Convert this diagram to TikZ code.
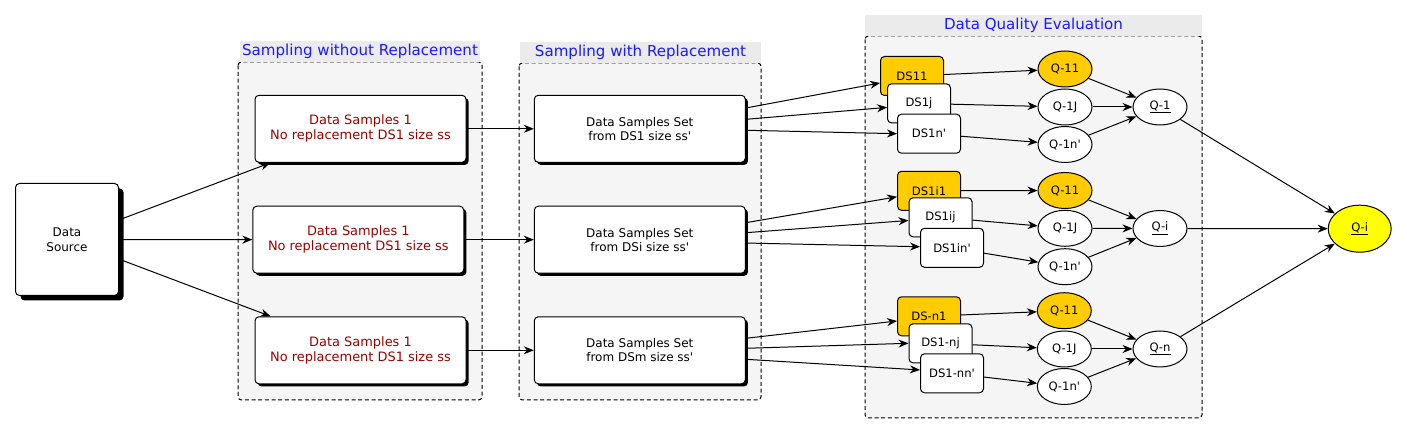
\documentclass[tikz,border=0pt]{standalone}
\usepackage{fontspec}
\setmainfont{DejaVu Sans}
\usetikzlibrary{arrows.meta,shapes.geometric,shadows}

\definecolor{panelgray}{HTML}{F5F5F5}
\definecolor{bandgray}{HTML}{EBEBEB}
\definecolor{dsorange}{HTML}{FFCC00}
\definecolor{qyellow}{HTML}{FFFF00}
\definecolor{titleblue}{HTML}{1A1AFF}
\definecolor{textred}{HTML}{990000}
\newcommand{\pmark}{\textquotesingle{}}

\begin{document}
\begin{tikzpicture}[x=0.75pt, y=-0.75pt, line width=0.75pt,
	>={Stealth[length=7.5pt, width=6pt]},
	panel/.style={draw, dash pattern=on 3pt off 2pt, rounded corners=2.5pt, fill=panelgray},
	band/.style={fill=bandgray, inner sep=0pt, minimum height=15.75pt, text=titleblue, font=\fontsize{11.3}{13}\selectfont},
	bigbox/.style={draw, fill=white, rounded corners=3pt, inner sep=0pt, minimum width=158.25pt, minimum height=50.25pt, align=center, drop shadow={shadow xshift=2pt, shadow yshift=-2pt, fill=black, opacity=1}},
	samplebox/.style={bigbox, text=textred, font=\fontsize{9.7}{11.25}\selectfont},
	setbox/.style={bigbox, font=\fontsize{9}{10.5}\selectfont},
	dsbox/.style={draw, fill=white, rounded corners=3pt, inner sep=0pt, minimum width=47.25pt, minimum height=29.25pt, font=\fontsize{8.7}{10}\selectfont},
	qnode/.style={draw, fill=white, ellipse, inner sep=0pt, minimum width=40.5pt, minimum height=27pt, font=\fontsize{8.7}{10}\selectfont},
]
	\useasboundingbox (0,0) rectangle (1407,434);

	% panels
	\draw[panel] (238,62) rectangle (482,400);
	\draw[panel] (519,63) rectangle (761,400);
	\draw[panel] (865,36) rectangle (1202,418);
	\node[band, minimum width=180pt] (t1) at (360,51.5) {Sampling without Replacement};
	\node[band, minimum width=180.75pt] (t2) at (640.5,52.5) {Sampling with Replacement};
	\node[band, minimum width=252.75pt] (t3) at (1033.5,25.5) {Data Quality Evaluation};

	\node[draw, fill=white, rounded corners=3pt, inner sep=0pt, minimum width=77.25pt, minimum height=84pt, align=center, font=\fontsize{9}{10.9}\selectfont,
		drop shadow={shadow xshift=3.75pt, shadow yshift=-3.75pt, fill=black, opacity=1}] (source) at (67,239.5) {Data\\Source};

	\node[samplebox] (sa1) at (360.5,128.8) {Data Samples 1\\No replacement DS1 size ss};
	\node[samplebox] (sa2) at (358.3,239.7) {Data Samples 1\\No replacement DS1 size ss};
	\node[samplebox] (sa3) at (360.5,350.3) {Data Samples 1\\No replacement DS1 size ss};

	\node[setbox] (sr1) at (639.8,128.8) {Data Samples Set\\from DS1 size ss\pmark};
	\node[setbox] (sr2) at (639.8,239.7) {Data Samples Set\\from DSi size ss\pmark};
	\node[setbox] (sr3) at (639.8,350.3) {Data Samples Set\\from DSm size ss\pmark};

	\node[dsbox, fill=dsorange] (ds11) at (912,76) {DS11};
	\node[dsbox] (ds1j) at (919,103.4) {DS1j};
	\node[dsbox] (ds1n) at (929,133.7) {DS1n\pmark};
	\node[dsbox, fill=dsorange] (dsi1) at (929,190.8) {DS1i1};
	\node[dsbox] (dsij) at (940.5,217.3) {DS1ij};
	\node[dsbox] (dsin) at (952,247.8) {DS1in\pmark};
	\node[dsbox, fill=dsorange] (dsn1) at (929,316.3) {DS-n1};
	\node[dsbox] (dsnj) at (940.5,343.3) {DS1-nj};
	\node[dsbox] (dsnn) at (952,373.3) {DS1-nn\pmark};

	\node[qnode, fill=dsorange] (q11) at (1065,69) {Q-11};
	\node[qnode] (q1j) at (1065,107) {Q-1J};
	\node[qnode] (q1n) at (1065,144.5) {Q-1n\pmark};
	\node[qnode] (q1) at (1160,107) {\underline{Q-1}};
	\node[qnode, fill=dsorange] (qi1) at (1065,190.5) {Q-11};
	\node[qnode] (qij) at (1065,228.3) {Q-1J};
	\node[qnode] (qin) at (1065,266.7) {Q-1n\pmark};
	\node[qnode] (qi) at (1160,228.5) {\underline{Q-i}};
	\node[qnode, fill=dsorange] (qn1) at (1064.3,310.7) {Q-11};
	\node[qnode] (qnj) at (1064.3,349) {Q-1J};
	\node[qnode] (qnn) at (1064.3,386.5) {Q-1n\pmark};
	\node[qnode] (qn) at (1160,349) {\underline{Q-n}};

	\node[qnode, fill=qyellow, minimum width=47.25pt, minimum height=35.25pt] (qall) at (1359.7,228.7) {\underline{Q-i}};

	\draw[->] (source) -- (sa1);
	\draw[->] (source) -- (sa2);
	\draw[->] (source) -- (sa3);
	\draw[->] (sa1) -- (sr1);
	\draw[->] (sa2) -- (sr2);
	\draw[->] (sa3) -- (sr3);

	\draw[->] ([yshift=15.6pt]sr1.east) -- ([yshift=-5.25pt]ds11.west);
	\draw[->] ([yshift=7.1pt]sr1.east) -- ([yshift=-3pt]ds1j.west);
	\draw[->] ([yshift=-1.1pt]sr1.east) -- (ds1n.west);
	\draw[->] ([yshift=12.75pt]sr2.east) -- ([yshift=-4.5pt]dsi1.west);
	\draw[->] ([yshift=5.25pt]sr2.east) -- ([yshift=-2.4pt]dsij.west);
	\draw[->] ([yshift=-2.5pt]sr2.east) -- ([yshift=0.8pt]dsin.west);
	\draw[->] ([yshift=9pt]sr3.east) -- ([yshift=-3.5pt]dsn1.west);
	\draw[->] ([yshift=1.5pt]sr3.east) -- (dsnj.west);
	\draw[->] ([yshift=-6.75pt]sr3.east) -- ([yshift=2.5pt]dsnn.west);

	\draw[->] (ds11) -- (q11);
	\draw[->] (ds1j) -- (q1j);
	\draw[->] (ds1n) -- (q1n);
	\draw[->] (dsi1) -- (qi1);
	\draw[->] (dsij) -- (qij);
	\draw[->] (dsin) -- (qin);
	\draw[->] (dsn1) -- (qn1);
	\draw[->] (dsnj) -- (qnj);
	\draw[->] (dsnn) -- (qnn);

	\draw[->] (q11) -- (q1);
	\draw[->] (q1j) -- (q1);
	\draw[->] (q1n) -- (q1);
	\draw[->] (qi1) -- (qi);
	\draw[->] (qij) -- (qi);
	\draw[->] (qin) -- (qi);
	\draw[->] (qn1) -- (qn);
	\draw[->] (qnj) -- (qn);
	\draw[->] (qnn) -- (qn);

	\draw[->] (q1) -- (qall);
	\draw[->] (qi) -- (qall);
	\draw[->] (qn) -- (qall);

\end{tikzpicture}
\end{document}
